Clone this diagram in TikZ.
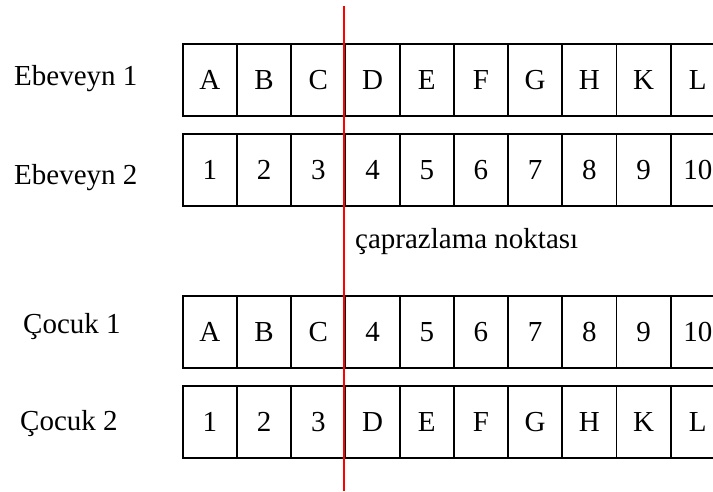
\documentclass[tikz,border=0pt]{standalone}
\usepackage{fontspec}
\setmainfont{Liberation Serif}
\begin{document}
\begin{tikzpicture}[x=1pt,y=1pt,
  txt/.style={font=\fontsize{29}{34}\selectfont},
  cell/.style={txt, draw=black, line width=1.7pt, minimum width=54.2pt,
    minimum height=72pt, inner sep=0pt, anchor=north west},
  rowlabel/.style={txt, anchor=base west, inner sep=0pt},
  cutline/.style={draw=red, line width=2.2pt}]
\useasboundingbox (0,0) rectangle (713,491);
\clip (0,0) rectangle (713,491);

% parent chromosomes
\foreach \t [count=\i from 0] in {A,B,C,D,E,F,G,H,K,L}
  \node[cell] (p1c\i) at (182+54.2*\i,448) {\t};
\foreach \t [count=\i from 0] in {1,2,3,4,5,6,7,8,9,10}
  \node[cell] (p2c\i) at (182+54.2*\i,358) {\t};

% offspring chromosomes
\foreach \t [count=\i from 0] in {A,B,C,4,5,6,7,8,9,10}
  \node[cell] (c1c\i) at (182+54.2*\i,196) {\t};
\foreach \t [count=\i from 0] in {1,2,3,D,E,F,G,H,K,L}
  \node[cell] (c2c\i) at (182+54.2*\i,106) {\t};

% row labels
\node[rowlabel] (lp1) at (14,405) {Ebeveyn 1};
\node[rowlabel] (lp2) at (14,306) {Ebeveyn 2};
\node[rowlabel] (lc1) at (23,158) {Çocuk 1};
\node[rowlabel] (lc2) at (20,61) {Çocuk 2};

% crossover point
\coordinate (cuttop) at (344.3,485);
\coordinate (cutbot) at (344.3,0);
\draw[cutline] (cuttop) -- (cutbot);
\node[rowlabel] (cutlabel) at (355,242) {çaprazlama noktası};
\end{tikzpicture}
\end{document}
